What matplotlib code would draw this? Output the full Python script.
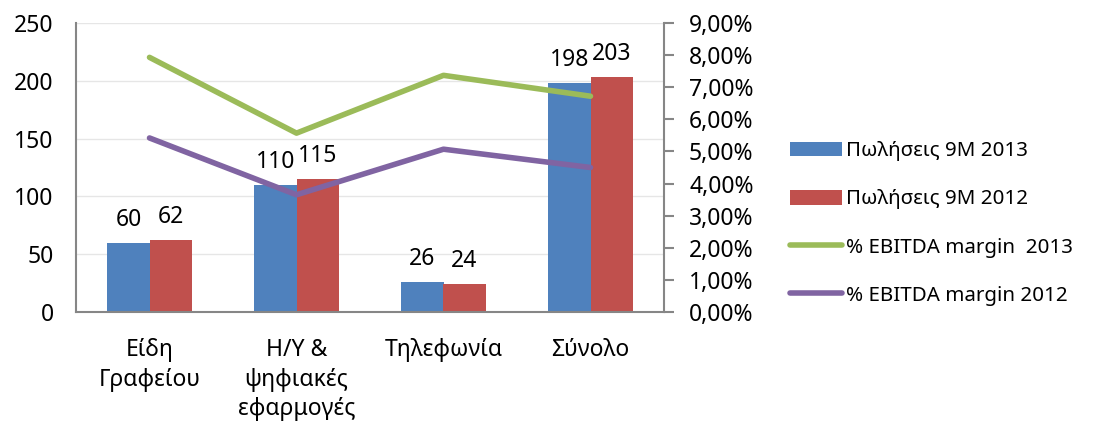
import matplotlib
matplotlib.use("Agg")
import matplotlib.pyplot as plt
import numpy as np
from matplotlib.ticker import FuncFormatter, MultipleLocator

plt.rcParams['font.family'] = ['Noto Sans', 'DejaVu Sans']

categories = ["Είδη\nΓραφείου", "H/Y &\nψηφιακές\nεφαρμογές", "Τηλεφωνία", "Σύνολο"]
sales_2013 = [60, 110, 26, 198]
sales_2012 = [62, 115, 24, 203]
ebitda_2013 = [7.93, 5.57, 7.37, 6.72]
ebitda_2012 = [5.42, 3.65, 5.07, 4.50]
labels = ["Πωλήσεις 9M 2013", "Πωλήσεις 9M 2012", "% EBITDA margin  2013", "% EBITDA margin 2012"]

FS = 16.5
LFS = 14.8

fig = plt.figure(figsize=(10.95, 4.23), dpi=100)
ax = fig.add_axes([76/1095, (423-312)/423, 588/1095, 289/423])
ax2 = ax.twinx()

x = np.arange(len(categories))
w = 0.286
b1 = ax.bar(x - w/2, sales_2013, w, color="#4F81BD", label=labels[0], zorder=2)
b2 = ax.bar(x + w/2, sales_2012, w, color="#C0504D", label=labels[1], zorder=2)
for bars in (b1, b2):
    for r in bars:
        ax.annotate(f"{int(r.get_height())}", (r.get_x() + r.get_width()/2, r.get_height()),
                    xytext=(0, 8), textcoords="offset points", ha="center", va="bottom",
                    fontsize=FS, color="black")

l1, = ax2.plot(x, ebitda_2013, color="#9BBB59", lw=4, label=labels[2], solid_capstyle="round")
l2, = ax2.plot(x, ebitda_2012, color="#8064A2", lw=4, label=labels[3], solid_capstyle="round")

ax.set_xlim(-0.5, 3.5)
ax.set_ylim(0, 250)
ax.yaxis.set_major_locator(MultipleLocator(50))
ax2.set_ylim(0, 9)
ax2.yaxis.set_major_locator(MultipleLocator(1))
ax2.yaxis.set_major_formatter(FuncFormatter(lambda v, p: f"{v:.2f}%".replace(".", ",")))

ax.grid(axis="y", color="#E6E6E6", lw=1, zorder=0)
ax.set_axisbelow(True)
for s in ["top", "right"]:
    ax.spines[s].set_visible(False)
ax2.spines["top"].set_visible(False)
ax2.spines["left"].set_visible(False)
ax2.spines["bottom"].set_visible(False)
for sp in (ax2.spines["right"], ax.spines["left"], ax.spines["bottom"]):
    sp.set_color("#868686")
    sp.set_linewidth(1.5)

ax.set_xticks(x)
ax.set_xticklabels(categories, fontsize=FS, linespacing=1.3)
ax.tick_params(axis="x", length=0, pad=19)
ax.tick_params(axis="y", length=0, labelsize=FS, pad=16)
ax2.tick_params(axis="y", length=7, width=1.5, color="#868686", labelsize=FS, pad=11)

handles = [b1, b2, l1, l2]
fig.legend(handles, labels, loc="upper left", bbox_to_anchor=(782/1095, 1 - 133/423),
           frameon=False, fontsize=LFS, handlelength=2.5, handleheight=0.72, handletextpad=0.2,
           labelspacing=1.37, borderaxespad=0)

fig.savefig("out.png", dpi=100)
